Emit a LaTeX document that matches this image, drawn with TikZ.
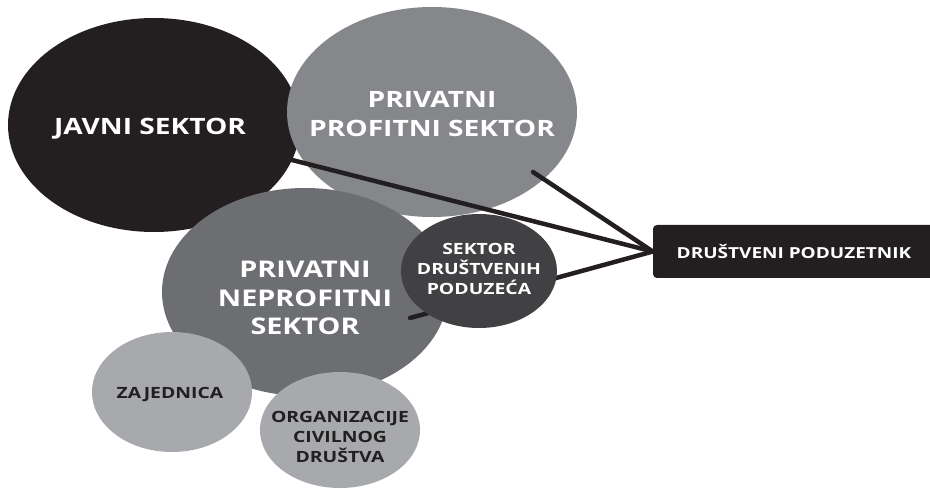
\documentclass[tikz,border=0pt]{standalone}
\usepackage{fontspec}
\setmainfont{Open Sans}[FakeStretch=1.25]
\usepackage{tikz}
\usetikzlibrary{shapes.geometric}

\definecolor{inkblack}{HTML}{231F20}
\definecolor{profitgray}{HTML}{86878A}
\definecolor{nonprofitgray}{HTML}{6D6E71}
\definecolor{socialgray}{HTML}{414042}
\definecolor{civilgray}{HTML}{A7A9AC}

\begin{document}
\begin{tikzpicture}[
    x=1pt, y=-1pt,
    every node/.style={align=center},
    sector/.style={ellipse, inner sep=0pt},
    bigtext/.style={font=\fontsize{22.5}{28.5}\selectfont\bfseries, text=white},
    smalltext/.style={font=\fontsize{15.5}{20}\selectfont\bfseries, text=white},
    darktext/.style={font=\fontsize{15.5}{20}\selectfont\bfseries, text=inkblack},
    link/.style={line width=4.5pt, line cap=round, inkblack},
]
\fill[white] (0,0) rectangle (930,489);
\useasboundingbox (0,0) rectangle (930,489);

% Target box (right)
\node[fill=inkblack, rounded corners=4pt, minimum width=282pt, minimum height=53pt,
      text=white, font=\fontsize{15.2}{20}\selectfont\bfseries] (entre) at (794,251.5) {DRUŠTVENI PODUZETNIK};

% Upper sectors
\node[sector, fill=inkblack, minimum width=292pt, minimum height=214pt,
      label={[bigtext, xshift=-4pt, yshift=-4pt]center:JAVNI SEKTOR}] (public) at (154,125) {};
\node[sector, fill=profitgray, minimum width=290pt, minimum height=210pt,
      label={[bigtext, yshift=-2pt]center:{PRIVATNI\\PROFITNI SEKTOR}}] (profit) at (432,112) {};

% Links from upper sectors
\coordinate (profitEnd) at (533,172);
\draw[link] (public) -- (entre.west);
\draw[link] (profitEnd) -- (entre.west);

% Non-profit sector and its link (passes under the social enterprise sector)
\node[sector, fill=nonprofitgray, minimum width=286pt, minimum height=208pt,
      label={[bigtext, font=\fontsize{23}{28.5}\selectfont\bfseries, yshift=-6pt]center:{PRIVATNI\\NEPROFITNI\\SEKTOR}}] (nonprofit) at (305,292) {};
\coordinate (nonprofitEnd) at (410,318);
\draw[link] (nonprofitEnd) -- (entre.west);

\node[sector, fill=socialgray, minimum width=156pt, minimum height=114pt,
      label={[smalltext, yshift=2pt]center:{SEKTOR\\DRUŠTVENIH\\PODUZEĆA}}] (social) at (479,271) {};

% Lower sectors
\node[sector, fill=civilgray, minimum width=160pt, minimum height=120pt,
      label={[darktext, xshift=-2pt, yshift=-3pt]center:ZAJEDNICA}] (community) at (172,392) {};
\node[sector, fill=civilgray, minimum width=160pt, minimum height=116pt,
      label={[darktext, yshift=-7pt]center:{ORGANIZACIJE\\CIVILNOG\\DRUŠTVA}}] (civil) at (340,430) {};

\end{tikzpicture}
\end{document}
